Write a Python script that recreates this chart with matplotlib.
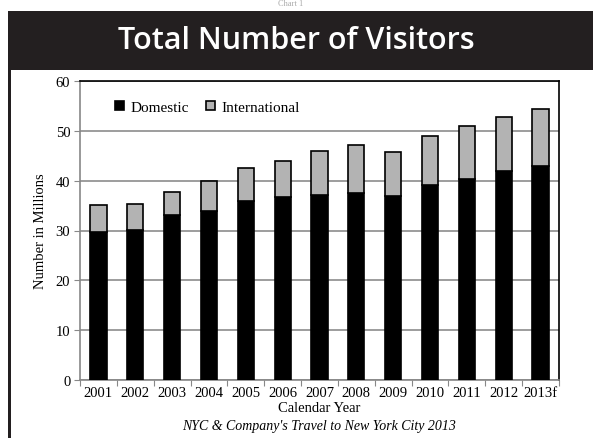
import numpy as np
import matplotlib
matplotlib.use("Agg")
import matplotlib.pyplot as plt
from matplotlib.patches import Rectangle

# data (millions)
years = ['2001', '2002', '2003', '2004', '2005', '2006', '2007',
         '2008', '2009', '2010', '2011', '2012', '2013f']
domestic = [29.6, 30.2, 33.1, 33.9, 35.9, 36.7, 37.2, 37.5, 37.0, 39.2, 40.4, 42.0, 43.0]
total = [35.2, 35.3, 37.8, 40.0, 42.6, 43.9, 45.9, 47.1, 45.7, 48.9, 51.0, 52.8, 54.4]
international = [t - d for t, d in zip(total, domestic)]

serif = ['Liberation Serif', 'DejaVu Serif']
band_color = '#231f20'

fig = plt.figure(figsize=(5.93, 4.39), dpi=100)
fig.patch.set_facecolor('white')

# header band and left border
fig.patches.append(Rectangle((8/593, 1 - 70.5/439), 1, 58.5/439, transform=fig.transFigure,
                             facecolor=band_color, edgecolor='none', zorder=0))
fig.patches.append(Rectangle((8/593, 0), 3/593, 1 - 70.5/439, transform=fig.transFigure,
                             facecolor=band_color, edgecolor='none', zorder=0))
fig.text(0.5, 1 - 41/439, 'Total Number of Visitors', color='white', fontsize=22,
         fontweight='semibold', family='Open Sans', ha='center', va='center')
fig.text(0.49, 1.0, 'Chart 1', color='#aaaaaa', fontsize=6, family=serif,
         ha='center', va='top')

ax = fig.add_axes([80/593, 1 - 381/439, 479/593, 299/439])
x = np.arange(len(years))
w = 0.44
ax.bar(x, domestic, w, color='black', edgecolor='black', linewidth=1.2,
       label='Domestic', zorder=3)
ax.bar(x, international, w, bottom=domestic, color='#b3b3b3', edgecolor='black',
       linewidth=1.2, label='International', zorder=3)

ax.set_xlim(-0.5, len(years) - 0.5)
ax.set_ylim(0, 60)
ax.set_yticks(range(0, 61, 10))
ax.yaxis.grid(True, color='#8c8c8c', linewidth=1.2, zorder=0)
ax.set_axisbelow(True)

# x tick marks between categories, labels centred
ax.set_xticks(np.arange(-0.5, len(years), 1))
ax.set_xticklabels([])
ax.set_xticks(x, minor=True)
ax.set_xticklabels(years, minor=True, fontsize=10.5, family=serif)
ax.tick_params(axis='x', which='minor', length=0, pad=4)
ax.tick_params(axis='x', which='major', length=4, color='#888888', direction='out')
ax.tick_params(axis='y', length=4, color='#888888', labelsize=10.5, pad=3)
for lab in ax.get_yticklabels():
    lab.set_family(serif)

for side in ['left', 'bottom']:
    ax.spines[side].set_color('#888888')
    ax.spines[side].set_linewidth(1.2)
for side in ['top', 'right']:
    ax.spines[side].set_color('black')
    ax.spines[side].set_linewidth(1.2)

ax.set_ylabel('Number in Millions', fontsize=10.5, family=serif, labelpad=6)
ax.set_xlabel('Calendar Year', fontsize=10.5, family=serif, labelpad=2)

leg = ax.legend(loc='upper left', bbox_to_anchor=(0.045, 0.98), ncol=2, frameon=False,
                handlelength=0.6, handleheight=0.6, handletextpad=0.4, columnspacing=1.1,
                prop={'family': serif, 'size': 11})

fig.text(ax.get_position().x0 + ax.get_position().width / 2, 1 - 427/439,
         "NYC & Company's Travel to New York City 2013", fontsize=10,
         family=serif, style='italic', ha='center', va='center')

fig.savefig('out.png', dpi=100)
